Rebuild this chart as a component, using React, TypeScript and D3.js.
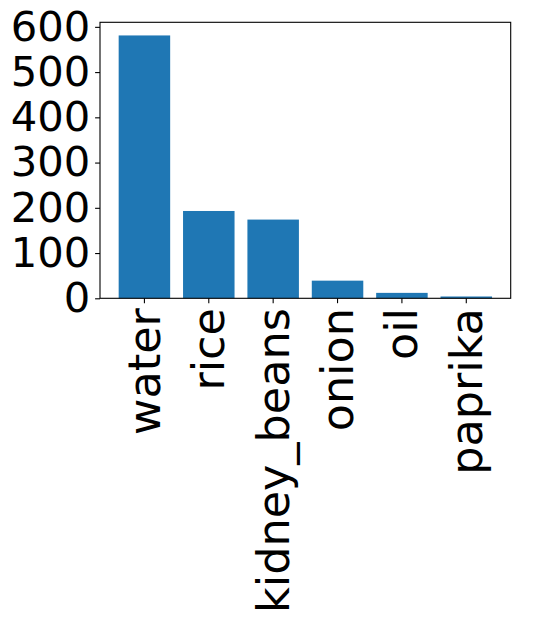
import React, { useEffect, useRef } from 'react';
import * as d3 from 'd3';

// ingredient amounts
const ingredients = ['water', 'rice', 'kidney_beans', 'onion', 'oil', 'paprika'];
const amounts = [581, 193, 174, 39, 12, 4];
const yTicks = [0, 100, 200, 300, 400, 500, 600];

const App = () => {
  const svgRef = useRef<SVGSVGElement>(null);

  useEffect(() => {
    const width = 541;
    const height = 619;
    const margin = { top: 22.3, right: 30.3, bottom: 320.7, left: 100 };
    const yFontSize = 41.7;
    const xFontSize = 44.5;

    const svg = d3.select(svgRef.current);
    svg.selectAll('*').remove();
    svg.attr('width', width).attr('height', height);

    const data = ingredients.map((name, i) => ({ name, value: amounts[i] }));

    // matplotlib-like linear x with 5% margins
    const n = data.length;
    const xMin = -0.4 - 0.05 * (n - 1 + 0.8);
    const xMax = n - 1 + 0.4 + 0.05 * (n - 1 + 0.8);
    const xScale = d3.scaleLinear()
      .domain([xMin, xMax])
      .range([margin.left, width - margin.right]);

    const yMax = d3.max(amounts)! * 1.05;
    const yScale = d3.scaleLinear()
      .domain([0, yMax])
      .range([height - margin.bottom, margin.top]);

    const barW = xScale(0.8) - xScale(0);

    // bars
    svg.append('g')
      .selectAll('rect')
      .data(data)
      .enter()
      .append('rect')
      .attr('x', (d, i) => xScale(i) - barW / 2)
      .attr('y', d => yScale(d.value))
      .attr('width', barW)
      .attr('height', d => yScale(0) - yScale(d.value))
      .attr('fill', '#1f77b4');

    // frame
    svg.append('rect')
      .attr('x', margin.left)
      .attr('y', margin.top)
      .attr('width', width - margin.right - margin.left)
      .attr('height', height - margin.bottom - margin.top)
      .attr('fill', 'none')
      .attr('stroke', 'black')
      .attr('stroke-width', 1.1);

    // y axis
    const yAxis = svg.append('g')
      .attr('transform', `translate(${margin.left}, 0)`)
      .call(d3.axisLeft(yScale).tickValues(yTicks).tickSize(4.9).tickPadding(4.9));
    yAxis.select('.domain').remove();
    yAxis.selectAll('line').attr('stroke', 'black').attr('stroke-width', 1.1);
    yAxis.selectAll('text')
      .attr('font-family', 'DejaVu Sans')
      .attr('font-size', yFontSize)
      .attr('fill', 'black');

    // x axis
    const xAxis = svg.append('g')
      .attr('transform', `translate(0, ${height - margin.bottom})`);
    xAxis.selectAll('line')
      .data(data)
      .enter()
      .append('line')
      .attr('x1', (d, i) => xScale(i))
      .attr('x2', (d, i) => xScale(i))
      .attr('y1', 0)
      .attr('y2', 4.9)
      .attr('stroke', 'black')
      .attr('stroke-width', 1.1);
    xAxis.selectAll('text')
      .data(data)
      .enter()
      .append('text')
      .attr('transform', (d, i) => `translate(${xScale(i)}, ${4.9 + 4.9}) rotate(-90)`)
      .attr('text-anchor', 'end')
      .attr('dy', '0.35em')
      .attr('font-family', 'DejaVu Sans')
      .attr('font-size', xFontSize)
      .attr('fill', 'black')
      .text(d => d.name);
  }, []);

  return <svg ref={svgRef} style={{ position: 'absolute', left: 0, top: 0 }}></svg>;
};

export default App;
